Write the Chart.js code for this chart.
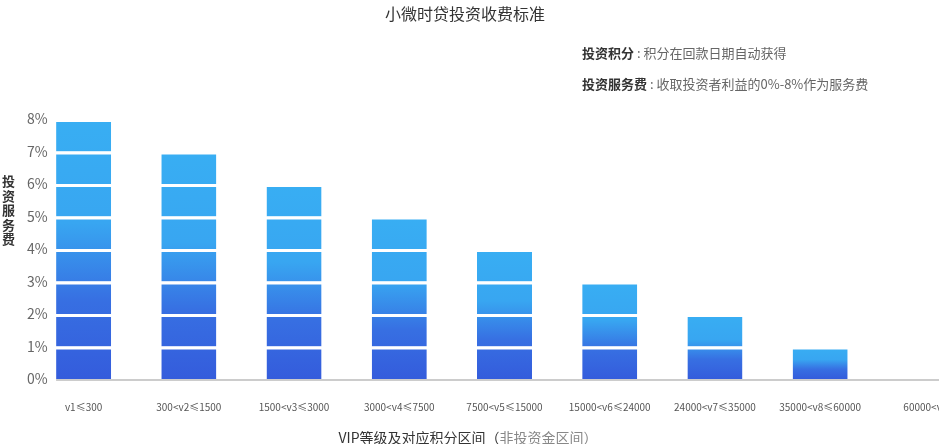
<!DOCTYPE html>
<html lang="zh-CN">
<head>
    <meta charset="UTF-8">
    <title>小微时贷投资收费标准</title>
    <script src="https://cdn.jsdelivr.net/npm/chart.js"></script>
    <style>
        body {
            margin: 0;
            background: #ffffff;
            overflow: hidden;
            font-family: "Noto Sans CJK SC", "Noto Sans", sans-serif;
        }
        .wrap {
            position: relative;
            width: 980px;
            height: 444px;
        }
        .title {
            position: absolute;
            left: 0;
            width: 930px;
            top: 1px;
            text-align: center;
            font-size: 16px;
            color: #333;
        }
        .note {
            position: absolute;
            left: 582px;
            font-size: 13px;
            color: #666;
            white-space: nowrap;
        }
        .note b {
            color: #333;
            font-weight: 600;
        }
        .ytitle {
            position: absolute;
            left: 2px;
            top: 174px;
            width: 14px;
            font-size: 13px;
            line-height: 14.5px;
            font-weight: 600;
            color: #333;
        }
        .xtitle {
            position: absolute;
            left: 0;
            width: 936px;
            top: 427px;
            text-align: center;
            font-size: 14px;
            color: #333;
            white-space: nowrap;
        }
        .xtitle span {
            color: #888;
        }
    </style>
</head>
<body>
    <div class="wrap">
        <canvas id="chart" width="980" height="444"></canvas>
        <div class="title">小微时贷投资收费标准</div>
        <div class="note" style="top: 43px;"><b>投资积分</b> : 积分在回款日期自动获得</div>
        <div class="note" style="top: 74px;"><b>投资服务费</b> : 收取投资者利益的0%-8%作为服务费</div>
        <div class="ytitle">投<br>资<br>服<br>务<br>费</div>
        <div class="xtitle">VIP等级及对应积分区间（<span>非投资金区间）</span></div>
    </div>

    <script>
        // VIP levels and their service fee (%)
        const levels = ['v1≤300', '300<v2≤1500', '1500<v3≤3000', '3000<v4≤7500', '7500<v5≤15000',
                        '15000<v6≤24000', '24000<v7≤35000', '35000<v8≤60000', '60000<v9'];
        const fees = [8, 7, 6, 5, 4, 3, 2, 1, 0];
        const yTicks = [0, 1, 2, 3, 4, 5, 6, 7, 8];

        // each bar is a stack of 1% blocks, shaded dark at the bottom to light at the top
        function barColor(ctx) {
            const chart = ctx.chart;
            if (!chart.chartArea) return '#3a86e8';
            const y = chart.scales.y;
            const v = fees[ctx.dataIndex] || 1;
            const y0 = y.getPixelForValue(0);
            const y1 = y.getPixelForValue(v);
            const g = chart.ctx.createLinearGradient(0, y0, 0, y1);
            g.addColorStop(0, '#345cdc');
            g.addColorStop(0.3, '#376fe2');
            g.addColorStop(0.6, '#38a6f1');
            g.addColorStop(1, '#38aef3');
            return g;
        }

        const datasets = [];
        for (let k = 1; k <= 8; k++) {
            datasets.push({
                label: k + '%',
                data: fees.map(v => v >= k ? 1 : null),
                backgroundColor: barColor,
                borderColor: '#ffffff',
                borderWidth: { top: 3, left: 0, right: 0, bottom: 0 },
                borderSkipped: false,
                barPercentage: 0.523,
                categoryPercentage: 1
            });
        }

        // baseline from the first bar to the right edge
        const baseLine = {
            id: 'baseLine',
            afterDraw(chart) {
                const bar = chart.getDatasetMeta(0).data[0];
                const y = chart.scales.y.getPixelForValue(0);
                const c = chart.ctx;
                c.save();
                c.strokeStyle = '#cccccc';
                c.lineWidth = 2;
                c.beginPath();
                c.moveTo(bar.x - bar.width / 2, y + 1);
                c.lineTo(chart.width, y + 1);
                c.stroke();
                c.restore();
            }
        };

        new Chart(document.getElementById('chart'), {
            type: 'bar',
            data: { labels: levels, datasets: datasets },
            plugins: [baseLine],
            options: {
                responsive: false,
                devicePixelRatio: 1,
                animation: false,
                layout: { padding: { top: 119, right: 2, bottom: 25, left: 0 } },
                plugins: {
                    legend: { display: false },
                    tooltip: { enabled: false }
                },
                scales: {
                    x: {
                        stacked: true,
                        grid: { display: false, drawTicks: false },
                        border: { display: false },
                        afterFit(scale) { scale.height = 40; },
                        ticks: {
                            autoSkip: false,
                            maxRotation: 0,
                            padding: 22,
                            color: '#555',
                            font: { family: '"Noto Sans CJK SC", "Noto Sans", sans-serif', size: 10 }
                        }
                    },
                    y: {
                        stacked: true,
                        min: 0,
                        max: 8,
                        grid: { display: false, drawTicks: false },
                        border: { display: false },
                        afterFit(scale) { scale.width = 31; },
                        afterBuildTicks(scale) { scale.ticks = yTicks.map(v => ({ value: v })); },
                        ticks: {
                            mirror: true,
                            padding: -4,
                            color: '#666',
                            callback: v => v + '%',
                            font: { family: '"Noto Sans CJK SC", "Noto Sans", sans-serif', size: 14 }
                        }
                    }
                }
            }
        });
    </script>
</body>
</html>
